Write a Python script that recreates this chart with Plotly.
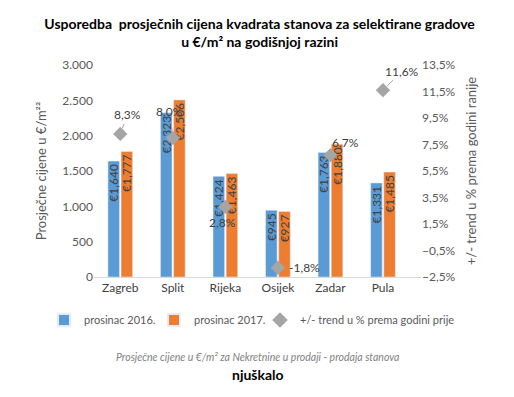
import plotly.graph_objects as go

cities = ["Zagreb", "Split", "Rijeka", "Osijek", "Zadar", "Pula"]
price_2016 = [1640, 2323, 1424, 945, 1763, 1331]
price_2017 = [1777, 2506, 1463, 927, 1880, 1485]
trend_pct = [8.3, 8.0, 2.8, -1.8, 6.7, 11.6]

name_2016 = "prosinac 2016."
name_2017 = "prosinac 2017."
name_trend = "+/- trend u % prema godini prije"

# label offsets (px) for trend labels: (dx, dy, show leader line)
label_offsets = [(7, -19, True), (-3, -26, True), (-3, 16, False),
                 (27, 0, False), (15, -13, False), (19, -19, True)]

FONT = "Lato"
BLUE = "#5B9BD5"
ORANGE = "#ED7D31"
GRAY = "#A5A5A5"
TXT = "#595959"

def euro(v):
    return "€" + f"{v:,}"

fig = go.Figure()
fig.add_trace(go.Bar(
    x=cities, y=price_2016, name=name_2016, marker_color=BLUE, legend="legend",
    text=[euro(v) for v in price_2016], textposition="inside",
    insidetextanchor="end", textangle=-90, constraintext="none",
    textfont=dict(color="#404040", size=12, family=FONT),
))
fig.add_trace(go.Bar(
    x=cities, y=price_2017, name=name_2017, marker_color=ORANGE, legend="legend2",
    text=[euro(v) for v in price_2017], textposition="inside",
    insidetextanchor="end", textangle=-90, constraintext="none",
    textfont=dict(color="#404040", size=12, family=FONT),
))
fig.add_trace(go.Scatter(
    x=cities, y=trend_pct, name=name_trend, mode="markers", yaxis="y2", legend="legend3",
    marker=dict(symbol="diamond", size=11, color=GRAY),
))

for c, t, (dx, dy, line) in zip(cities, trend_pct, label_offsets):
    fig.add_annotation(
        x=c, y=t, xref="x", yref="y2",
        text=f"{t:.1f}%".replace(".", ","),
        showarrow=True, arrowhead=0, arrowwidth=1, standoff=6,
        arrowcolor="#A6A6A6" if line else "rgba(0,0,0,0)",
        ax=dx, ay=dy, font=dict(size=12, color="#404040", family=FONT),
    )

fig.add_annotation(
    x=0.5, y=-0.377, xref="paper", yref="paper", showarrow=False,
    text="<i>Prosječne cijene u €/m² za Nekretnine u prodaji - prodaja stanova</i>",
    font=dict(size=10.5, color="#7F7F7F", family=FONT), yanchor="middle",
)
fig.add_annotation(
    x=0.5, y=-0.462, xref="paper", yref="paper", showarrow=False,
    text="<b>njuškalo</b>", font=dict(size=14, color="#000000", family=FONT),
    yanchor="middle",
)

def legend_at(px):
    return dict(orientation="h", xref="container", x=px / 514, xanchor="left",
                yref="container", y=1 - 320 / 397, yanchor="middle",
                font=dict(size=11, color=TXT), itemwidth=30,
                itemsizing="constant", bgcolor="rgba(0,0,0,0)")

fig.update_layout(
    width=514, height=397,
    margin=dict(l=94, r=93, t=65, b=120, autoexpand=False),
    paper_bgcolor="white", plot_bgcolor="white",
    separators=",.",
    font=dict(family=FONT, color=TXT, size=12),
    title=dict(
        text="<b>Usporedba  prosječnih cijena kvadrata stanova za selektirane gradove<br>u €/m² na godišnjoj razini</b>",
        x=0.505, xanchor="center", yref="container", y=1 - 29 / 397, yanchor="middle",
        font=dict(size=14, color="#000000", family=FONT),
    ),
    barmode="group", bargap=0.5, bargroupgap=0.12,
    xaxis=dict(showline=True, linecolor="#D9D9D9", linewidth=1, ticks="",
               tickfont=dict(size=12, color="#404040")),
    yaxis=dict(range=[0, 3000], dtick=500, tickformat=",d", showgrid=False,
               zeroline=False, showline=False, ticks="",
               title=dict(text="Prosječne cijene u €/m²²", font=dict(size=13, color=TXT), standoff=12),
               tickfont=dict(size=12, color=TXT)),
    yaxis2=dict(range=[-2.5, 13.5], dtick=2, tick0=-2.5, tickformat=".1f", ticksuffix="%",
                overlaying="y", side="right", showgrid=False, zeroline=False,
                showline=False, ticks="",
                title=dict(text="+/- trend u % prema godini ranije", font=dict(size=13, color=TXT), standoff=12),
                tickfont=dict(size=12, color=TXT)),
    legend=legend_at(44),
    legend2=legend_at(154),
    legend3=legend_at(260),
    showlegend=True,
)

fig.write_html("out.html", config={"displayModeBar": False},
               post_script="document.body.style.margin='0';document.body.style.overflow='hidden';")
